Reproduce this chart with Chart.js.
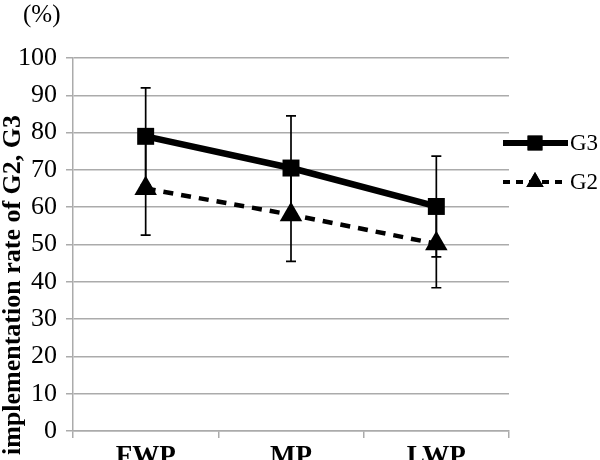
<!DOCTYPE html>
<html lang="en">
<head>
<meta charset="UTF-8">
<title>Implementation rate of G2, G3</title>
<script src="https://cdn.jsdelivr.net/npm/chart.js@4.4.0/dist/chart.umd.min.js"></script>
<style>
  body { margin: 0; background: #fff; }
  #wrap { width: 600px; height: 460px; }
</style>
</head>
<body>
<div id="wrap"><canvas id="myChart" width="600" height="460"></canvas></div>
<script>
  // data
  const periods = ['FWP', 'MP', 'LWP'];
  const g3Values = [79, 70.5, 60.2];
  const g3Err = [13, 14, 13.5];
  const g2Values = [65, 58, 50.2];
  const g2Err = [12.5, 12.5, 11.8];
  const yTicks = [0, 10, 20, 30, 40, 50, 60, 70, 80, 90, 100];

  const serif = '"Liberation Serif", "Times New Roman", serif';
  const gridGray = '#ababab';

  // error bars, axis title, unit and legend
  const extras = {
    id: 'extras',
    beforeDatasetsDraw(chart) {
      const ctx = chart.ctx;
      const x = chart.scales.x, y = chart.scales.y;
      const groups = [[g3Values, g3Err], [g2Values, g2Err]];
      ctx.save();
      ctx.strokeStyle = '#000';
      ctx.lineWidth = 1.7;
      groups.forEach(([vals, errs]) => {
        vals.forEach((v, i) => {
          const px = x.getPixelForValue(i);
          const top = y.getPixelForValue(v + errs[i]);
          const bot = y.getPixelForValue(v - errs[i]);
          ctx.beginPath();
          ctx.moveTo(px, top); ctx.lineTo(px, bot);
          ctx.moveTo(px - 5, top); ctx.lineTo(px + 5, top);
          ctx.moveTo(px - 5, bot); ctx.lineTo(px + 5, bot);
          ctx.stroke();
        });
      });
      ctx.restore();
    },
    afterDraw(chart) {
      const ctx = chart.ctx;
      ctx.save();
      ctx.fillStyle = '#000';
      // unit
      ctx.font = '25px ' + serif;
      ctx.textAlign = 'left';
      ctx.textBaseline = 'middle';
      ctx.fillText('(%)', 23, 15);
      // y axis title
      ctx.save();
      ctx.translate(13, 285);
      ctx.rotate(-Math.PI / 2);
      ctx.font = 'bold 26px ' + serif;
      ctx.textAlign = 'center';
      ctx.textBaseline = 'middle';
      ctx.fillText('implementation rate of G2, G3', 0, 0);
      ctx.restore();
      // legend
      const items = [
        { label: 'G3', y: 143, dash: [], width: 6, style: 'rect', r: 10.5 },
        { label: 'G2', y: 182, dash: [7, 6], width: 4, style: 'triangle', r: 10 }
      ];
      items.forEach(it => {
        ctx.save();
        ctx.strokeStyle = '#000';
        ctx.lineWidth = it.width;
        ctx.setLineDash(it.dash);
        ctx.beginPath();
        ctx.moveTo(503, it.y); ctx.lineTo(568, it.y);
        ctx.stroke();
        ctx.restore();
        Chart.helpers.drawPoint(ctx, { pointStyle: it.style, radius: it.r, rotation: 0 }, 535, it.y);
        ctx.fill();
        ctx.font = '23px ' + serif;
        ctx.textAlign = 'left';
        ctx.textBaseline = 'middle';
        ctx.fillText(it.label, 570, it.y + 1);
      });
      ctx.restore();
    }
  };

  const ctx = document.getElementById('myChart').getContext('2d');
  new Chart(ctx, {
    type: 'line',
    data: {
      labels: periods,
      datasets: [{
        label: 'G3',
        data: g3Values,
        borderColor: '#000',
        backgroundColor: '#000',
        borderWidth: 6.5,
        pointStyle: 'rect',
        pointRadius: 12,
        pointBorderWidth: 0,
        tension: 0
      }, {
        label: 'G2',
        data: g2Values,
        borderColor: '#000',
        backgroundColor: '#000',
        borderWidth: 4.5,
        borderDash: [10, 8],
        pointStyle: 'triangle',
        pointRadius: 13,
        pointBorderWidth: 0,
        tension: 0
      }]
    },
    options: {
      responsive: false,
      animation: false,
      layout: { padding: { top: 58, right: 91, left: 0, bottom: 0 } },
      plugins: { legend: { display: false }, tooltip: { enabled: false } },
      scales: {
        x: {
          offset: true,
          grid: { drawOnChartArea: false, offset: true, tickLength: 7, color: gridGray, lineWidth: 1.5 },
          border: { color: gridGray, width: 1.5 },
          ticks: { color: '#000', padding: 3, font: { family: serif, size: 27, weight: 'bold' } },
          afterFit(scale) { scale.height = 29; }
        },
        y: {
          min: 0,
          max: 100,
          afterBuildTicks(scale) { scale.ticks = yTicks.map(v => ({ value: v })); },
          grid: { color: gridGray, lineWidth: 1.5, tickLength: 7 },
          border: { color: gridGray, width: 1.5 },
          ticks: { color: '#000', padding: 9, font: { family: serif, size: 26 } },
          afterFit(scale) { scale.width = 73; }
        }
      }
    },
    plugins: [extras]
  });
</script>
</body>
</html>
